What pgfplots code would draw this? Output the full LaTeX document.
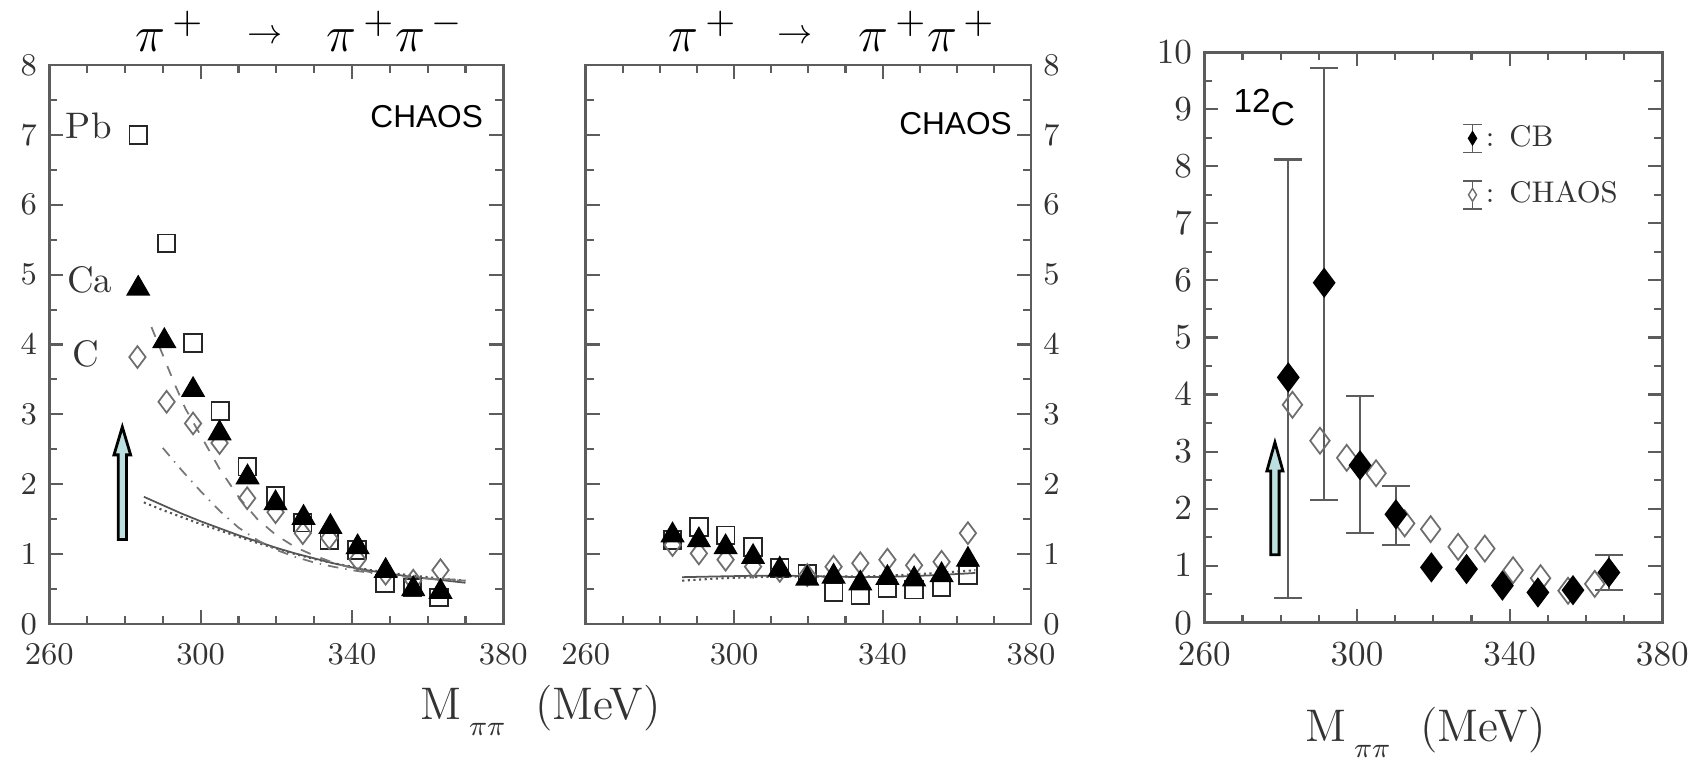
\documentclass[border=0pt]{standalone}
\usepackage{fontspec}
\newfontfamily\arial{Liberation Sans}
\usepackage{pgfplots}
\pgfplotsset{compat=1.18}
\definecolor{axgray}{HTML}{5C5C5C}
\definecolor{opengray}{HTML}{6E6E6E}
\definecolor{curvegray}{HTML}{555555}
\definecolor{arrowfill}{HTML}{BCE0E0}

\pgfplotsset{
  chaospanel/.style={
    scale only axis,
    xmin=260, xmax=380,
    xtick={260,300,340,380},
    minor xtick={270,280,290,310,320,330,350,360,370},
    minor y tick num=1,
    tick align=inside,
    major tick length=1.4mm,
    minor tick length=0.8mm,
    axis line style={axgray, line width=0.8pt},
    tick style={axgray, line width=0.6pt},
    tick label style={text=black!80},
    xticklabel style={yshift=-0.8mm},
    clip=false,
  },
}

\begin{document}
\begin{tikzpicture}
\path[use as bounding box] (0,0) rectangle (170mm,76mm);

% ---- panel 1: pi+ -> pi+ pi-
\begin{axis}[chaospanel, at={(4.93mm,13.6mm)}, anchor=south west,
  width=45.4mm, height=55.9mm,
  ymin=0, ymax=8, ytick={0,...,8},
  tick label style={font=\fontsize{9}{10}\selectfont},
]
% model curves
\addplot[curvegray, line width=0.5pt] coordinates {
  (285,1.82) (290,1.70) (295,1.58) (300,1.47) (305,1.37) (310,1.27) (315,1.18)
  (320,1.09) (325,1.01) (330,0.94) (335,0.87) (340,0.81) (345,0.76) (350,0.72)
  (355,0.68) (360,0.65) (365,0.62) (370,0.59)};
\addplot[curvegray, densely dotted, line width=0.6pt] coordinates {
  (285,1.74) (290,1.63) (295,1.53) (300,1.43) (305,1.34) (310,1.25) (315,1.16)
  (320,1.08) (325,1.00) (330,0.93) (335,0.87) (340,0.82) (345,0.77) (350,0.73)
  (355,0.70) (360,0.67) (365,0.64) (370,0.62)};
\addplot[curvegray!80, dash dot, line width=0.5pt] coordinates {
  (290,2.52) (295,2.20) (300,1.90) (305,1.62) (310,1.38) (315,1.20) (320,1.06)
  (325,0.96) (330,0.88) (335,0.82) (340,0.77) (345,0.73) (350,0.70) (355,0.67)
  (360,0.65) (365,0.63) (370,0.62)};
\addplot[curvegray!80, dashed, line width=0.5pt] coordinates {
  (287,4.25) (290,3.85) (293,3.45) (296,3.08) (300,2.70) (305,2.22) (310,1.82)
  (315,1.50) (320,1.27) (325,1.10) (330,0.98) (335,0.88) (340,0.80) (345,0.74)
  (350,0.70) (355,0.67) (360,0.65) (365,0.64) (370,0.63)};
% Pb
\addplot[only marks, mark=square, mark size=2.5pt, mark options={black!85, line width=0.5pt}] coordinates {
  (283.5,7.00) (291.0,5.45) (298.0,4.02) (305.2,3.05) (312.3,2.25) (319.8,1.83)
  (327.0,1.45) (334.0,1.20) (341.3,1.06) (348.7,0.58) (356.0,0.52) (363.0,0.38)};
% C
\addplot[only marks, mark=diamond, mark size=3.1pt, mark options={opengray, line width=0.5pt}] coordinates {
  (283.3,3.82) (291.0,3.18) (298.0,2.87) (305.0,2.59) (312.3,1.80) (319.8,1.60)
  (327.0,1.30) (334.0,1.23) (341.5,0.92) (348.9,0.72) (356.2,0.62) (363.4,0.77)};
% Ca
\addplot[only marks, mark=triangle*, mark size=3.6pt, mark options={black}] coordinates {
  (283.5,4.80) (290.4,4.05) (298.0,3.35) (305.0,2.73) (312.4,2.10) (319.8,1.73)
  (327.2,1.52) (334.3,1.39) (341.5,1.10) (348.9,0.76) (356.2,0.50) (363.4,0.46)};
\draw[fill=arrowfill, draw=black, line width=0.8pt]
  (axis cs:278.2,1.21) -- (axis cs:278.2,2.42) -- (axis cs:277.1,2.42) --
  (axis cs:279.3,2.82) -- (axis cs:281.5,2.42) -- (axis cs:280.4,2.42) --
  (axis cs:280.4,1.21) -- cycle;
\node[anchor=base east, inner sep=0pt, font=\arial\fontsize{9}{10}\selectfont] at (axis cs:374.8,7.11) {CHAOS};
\node[anchor=base west, inner sep=0pt, font=\fontsize{10.5}{12}\selectfont, text=black!80] at (axis cs:264.2,6.95) {Pb};
\node[anchor=base west, inner sep=0pt, font=\fontsize{10.5}{12}\selectfont, text=black!80] at (axis cs:264.5,4.74) {Ca};
\node[anchor=base west, inner sep=0pt, font=\fontsize{10.5}{12}\selectfont, text=black!80] at (axis cs:266.0,3.69) {C};
\end{axis}

% ---- panel 2: pi+ -> pi+ pi+
\begin{axis}[chaospanel, at={(58.57mm,13.6mm)}, anchor=south west,
  width=44.53mm, height=55.9mm,
  ymin=0, ymax=8, ytick={0,...,8},
  yticklabel pos=right,
  tick label style={font=\fontsize{9}{10}\selectfont},
]
\addplot[curvegray, line width=0.5pt] coordinates {
  (286,0.67) (295,0.68) (305,0.69) (315,0.69) (325,0.68) (335,0.67) (345,0.68)
  (355,0.70) (365,0.73)};
\addplot[curvegray, densely dotted, line width=0.6pt] coordinates {
  (286,0.62) (295,0.65) (305,0.67) (315,0.68) (325,0.68) (335,0.68) (345,0.70)
  (355,0.73) (365,0.77)};
\addplot[only marks, mark=square, mark size=2.5pt, mark options={black!85, line width=0.5pt}] coordinates {
  (283.4,1.20) (290.5,1.39) (297.7,1.27) (305.1,1.10) (312.3,0.80) (319.7,0.72)
  (326.8,0.46) (334.0,0.41) (341.3,0.51) (348.5,0.49) (355.9,0.53) (363.0,0.70)};
\addplot[only marks, mark=diamond, mark size=3.1pt, mark options={opengray, line width=0.5pt}] coordinates {
  (283.4,1.13) (290.5,1.01) (297.7,0.92) (305.1,0.82) (312.3,0.76) (319.7,0.70)
  (326.8,0.82) (334.0,0.87) (341.3,0.92) (348.5,0.84) (355.9,0.89) (363.0,1.30)};
\addplot[only marks, mark=triangle*, mark size=3.6pt, mark options={black}] coordinates {
  (283.4,1.27) (290.5,1.20) (297.7,1.10) (305.1,0.96) (312.3,0.78) (319.7,0.65)
  (326.8,0.68) (334.0,0.58) (341.3,0.66) (348.5,0.64) (355.9,0.70) (363.0,0.92)};
\node[anchor=base east, inner sep=0pt, font=\arial\fontsize{9}{10}\selectfont] at (axis cs:375,7.0) {CHAOS};
\end{axis}

% ---- panel 3: 12C, CB vs CHAOS
\begin{axis}[chaospanel, at={(120.43mm,13.73mm)}, anchor=south west,
  width=45.8mm, height=57.04mm,
  ymin=0, ymax=10, ytick={0,...,10},
  tick label style={font=\fontsize{10}{12}\selectfont},
  legend style={at={(0.5616,0.7995)}, anchor=west, draw=none, fill=none,
    inner sep=0pt, row sep=2.4mm, font=\fontsize{8.5}{10}\selectfont,
    nodes={inner sep=0.3mm, text=black!80}},
  legend cell align=left,
]
\addlegendimage{legend image code/.code={
  \draw[axgray, line width=0.45pt] (0.095cm,-0.14cm) -- (0.095cm,0.14cm)
    (0cm,-0.14cm) -- (0.19cm,-0.14cm) (0cm,0.14cm) -- (0.19cm,0.14cm);
  \fill[black] (0.095cm,0.065cm) -- (0.135cm,0cm) -- (0.095cm,-0.065cm) -- (0.055cm,0cm) -- cycle;
}}
\addlegendentry{:\hspace{1.5mm}CB}
\addlegendimage{legend image code/.code={
  \draw[axgray, line width=0.45pt] (0.095cm,-0.14cm) -- (0.095cm,-0.065cm)
    (0.095cm,0.065cm) -- (0.095cm,0.14cm)
    (0cm,-0.14cm) -- (0.19cm,-0.14cm) (0cm,0.14cm) -- (0.19cm,0.14cm);
  \draw[opengray, line width=0.4pt] (0.095cm,0.065cm) -- (0.135cm,0cm) -- (0.095cm,-0.065cm) -- (0.055cm,0cm) -- cycle;
}}
\addlegendentry{:\hspace{1.5mm}CHAOS}
% CHAOS
\addplot[forget plot, only marks, mark=diamond, mark size=3.7pt, mark options={opengray, line width=0.5pt}] coordinates {
  (283.1,3.82) (290.3,3.19) (297.3,2.89) (305.0,2.62) (312.5,1.74) (319.3,1.64)
  (326.5,1.33) (333.5,1.30) (340.9,0.92) (348.1,0.78) (355.3,0.56) (362.3,0.68)};
% CB, points with error bars
\addplot[forget plot, only marks, mark=diamond*, mark size=4pt, mark options={black},
  error bars/.cd, y dir=both, y explicit,
  error bar style={axgray, line width=0.45pt},
  error mark options={rotate=90, axgray, mark size=4pt, line width=0.6pt}]
  table[x=x, y=y, y error plus=ep, y error minus=em] {
x     y     ep    em
282.0 4.30  3.82  3.87
291.4 5.96  3.77  3.81
300.8 2.76  1.22  1.19
310.2 1.90  0.50  0.54
366.0 0.88  0.31  0.31
};
% CB, other points
\addplot[forget plot, only marks, mark=diamond*, mark size=4pt, mark options={black}] coordinates {
  (319.5,0.97) (328.7,0.94) (338.1,0.65) (347.4,0.53) (356.6,0.57)};
\draw[fill=arrowfill, draw=black, line width=0.8pt]
  (axis cs:277.4,1.19) -- (axis cs:277.4,2.66) -- (axis cs:276.4,2.66) --
  (axis cs:278.5,3.16) -- (axis cs:280.6,2.66) -- (axis cs:279.6,2.66) --
  (axis cs:279.6,1.19) -- cycle;
\node[anchor=base west, inner sep=0pt, font=\arial\fontsize{9.5}{11}\selectfont] at (axis cs:267.5,8.72) {\raisebox{1.3mm}{12}C};
\end{axis}

% titles
\node[anchor=base, font=\fontsize{15}{18}\selectfont] at (17mm,70.8mm) {$\pi^{\,+}$};
\node[anchor=base, font=\fontsize{10}{12}\selectfont] at (26.5mm,71.6mm) {$\rightarrow$};
\node[anchor=base, font=\fontsize{15}{18}\selectfont] at (39.5mm,70.8mm) {$\pi^{\,+}\pi^{\,-}$};
\node[anchor=base, font=\fontsize{15}{18}\selectfont] at (70.3mm,70.8mm) {$\pi^{\,+}$};
\node[anchor=base, font=\fontsize{10}{12}\selectfont] at (79.5mm,71.6mm) {$\rightarrow$};
\node[anchor=base, font=\fontsize{15}{18}\selectfont] at (92.7mm,70.8mm) {$\pi^{\,+}\pi^{\,+}$};

% x labels
\node[anchor=base, font=\fontsize{13}{15}\selectfont, text=black!80] at (54.05mm,4.0mm)
  {M\kern0.8mm\raisebox{-1.6mm}{\fontsize{8.5}{9}\selectfont$\pi\pi$}\hspace{3mm}(MeV)};
\node[anchor=base, font=\fontsize{13}{15}\selectfont, text=black!80] at (142.55mm,1.83mm)
  {M\kern0.8mm\raisebox{-1.6mm}{\fontsize{8.5}{9}\selectfont$\pi\pi$}\hspace{3mm}(MeV)};
\end{tikzpicture}
\end{document}
